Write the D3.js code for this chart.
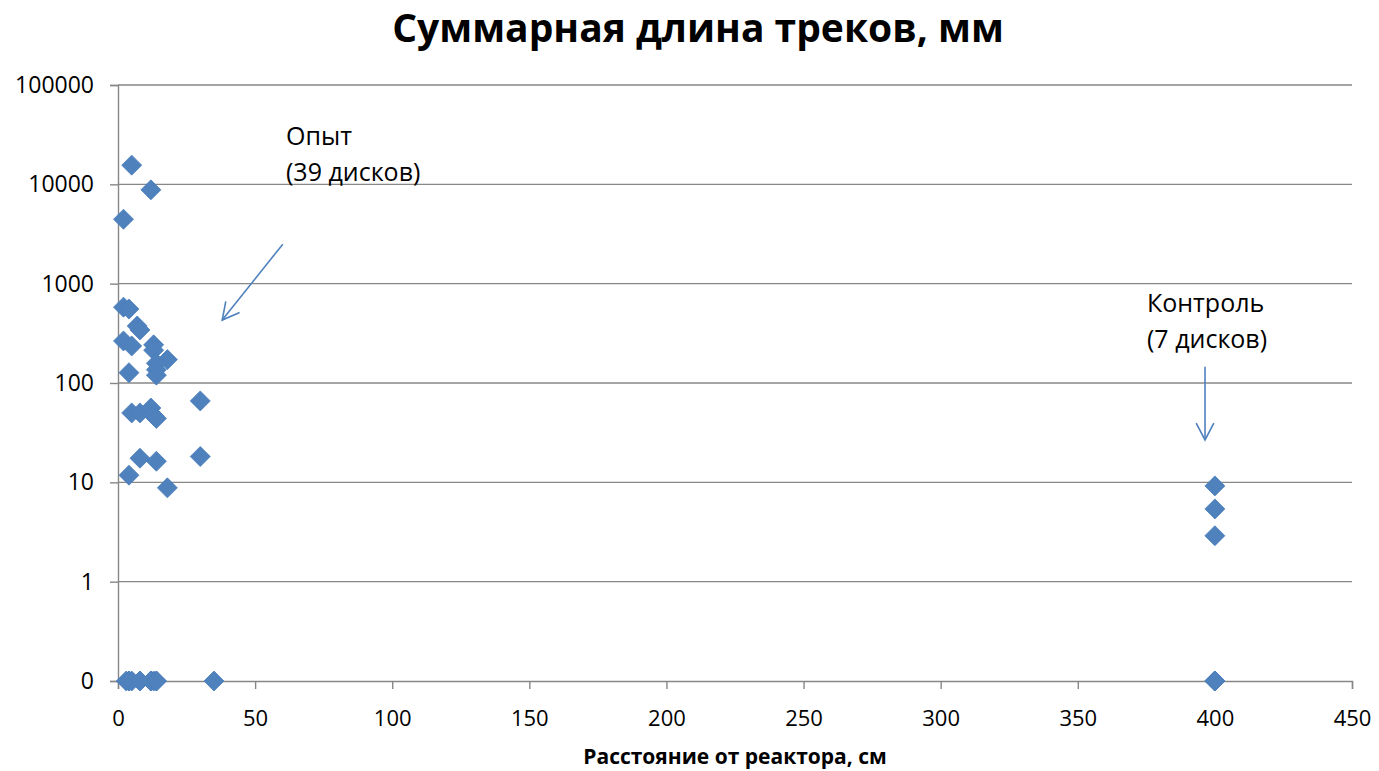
<!DOCTYPE html>
<html>
<head>
<meta charset="utf-8">
<script src="https://cdn.jsdelivr.net/npm/d3@7"></script>
<style>
  html, body { margin: 0; padding: 0; background: #fff; }
  svg { display: block; font-family: "Open Sans", "DejaVu Sans", sans-serif; }
</style>
</head>
<body>
<svg id="chart" width="1379" height="771"></svg>
<script>
// Experimental discs: distance from the reactor (cm) and total track length (mm)
const expDistance = [5, 12, 2,
  2, 4, 7, 8, 2, 5, 13, 13, 18, 14, 14, 14, 4,
  5, 8, 12, 13, 14,
  30, 30, 8, 14, 4, 18,
  3, 4, 5, 8, 12, 13, 14, 35, 4, 8, 12, 14];
const expLength = [15600, 8800, 4450,
  580, 555, 375, 342, 265, 236, 242, 214, 172, 158, 136, 120, 127,
  50, 50, 56, 47, 44,
  66, 18.2, 17.5, 16.3, 11.8, 8.8,
  0, 0, 0, 0, 0, 0, 0, 0, 0, 0, 0, 0];

// Control discs
const ctrlDistance = [400, 400, 400, 400, 400, 400, 400];
const ctrlLength = [9.2, 5.4, 2.9, 0, 0, 0, 0];

// Axis ticks
const xTicks = [0, 50, 100, 150, 200, 250, 300, 350, 400, 450];
const yTicks = [0.1, 1, 10, 100, 1000, 10000, 100000];
const yTickLabels = ["0", "1", "10", "100", "1000", "10000", "100000"];

const title = "Суммарная длина треков, мм";
const xTitle = "Расстояние от реактора, см";

const svg = d3.select("#chart");
const plotLeft = 118, plotRight = 1352, plotTop = 85, plotBottom = 681;

const x = d3.scaleLinear().domain([0, 450]).range([plotLeft, plotRight]);
const y = d3.scaleLog().domain([0.1, 100000]).range([plotBottom, plotTop]);
// zero lengths sit on the bottom of the log axis
const yv = v => y(Math.max(v, 0.1));

const gridColor = "#878787";

// horizontal gridlines
svg.append("g")
  .selectAll("line")
  .data(yTicks.slice(1))
  .join("line")
  .attr("x1", plotLeft).attr("x2", plotRight)
  .attr("y1", d => y(d)).attr("y2", d => y(d))
  .attr("stroke", gridColor).attr("stroke-width", 1.4);

// y axis
const yAxis = svg.append("g")
  .attr("transform", `translate(${plotLeft},0)`)
  .call(d3.axisLeft(y).tickValues(yTicks)
    .tickFormat((d, i) => yTickLabels[i]).tickSize(8).tickPadding(16));
yAxis.select(".domain").attr("stroke", gridColor).attr("stroke-width", 1.4);
yAxis.selectAll(".tick line").attr("stroke", gridColor).attr("stroke-width", 1.4);
yAxis.selectAll(".tick text")
  .attr("font-size", 23).attr("fill", "#000")
  .attr("font-family", "'Open Sans', sans-serif");

// x axis
const xAxis = svg.append("g")
  .attr("transform", `translate(0,${plotBottom})`)
  .call(d3.axisBottom(x).tickValues(xTicks).tickSize(8).tickPadding(21));
xAxis.select(".domain").attr("stroke", gridColor).attr("stroke-width", 1.4);
xAxis.selectAll(".tick line").attr("stroke", gridColor).attr("stroke-width", 1.4);
xAxis.selectAll(".tick text")
  .attr("font-size", 22).attr("fill", "#000")
  .attr("font-family", "'Open Sans', sans-serif");

// diamond markers
const diamond = "M0,-10L10,0L0,10L-10,0Z";
const points = expDistance.map((d, i) => ({ d, v: expLength[i] }))
  .concat(ctrlDistance.map((d, i) => ({ d, v: ctrlLength[i] })));

svg.append("g")
  .selectAll("path")
  .data(points)
  .join("path")
  .attr("d", diamond)
  .attr("transform", p => `translate(${x(p.d)},${yv(p.v)})`)
  .attr("fill", "#4F81BD")
  .attr("stroke", "#4A7EBB")
  .attr("stroke-width", 0.8);

// title
svg.append("text")
  .attr("x", 698).attr("y", 42)
  .attr("text-anchor", "middle")
  .attr("font-size", 39).attr("font-weight", "bold")
  .text(title);

// x axis title
svg.append("text")
  .attr("x", (plotLeft + plotRight) / 2).attr("y", 764)
  .attr("text-anchor", "middle")
  .attr("font-size", 21).attr("font-weight", "bold")
  .text(xTitle);

// annotations
const arrowColor = "#4F81BD";
function arrow(x1, y1, x2, y2) {
  const g = svg.append("g").attr("stroke", arrowColor)
    .attr("stroke-width", 1.6).attr("fill", "none");
  g.append("line").attr("x1", x1).attr("y1", y1).attr("x2", x2).attr("y2", y2);
  const a = Math.atan2(y2 - y1, x2 - x1), len = 19, spread = Math.PI / 6.5;
  const p1 = [x2 - len * Math.cos(a - spread), y2 - len * Math.sin(a - spread)];
  const p2 = [x2 - len * Math.cos(a + spread), y2 - len * Math.sin(a + spread)];
  g.append("path").attr("d", `M${p1}L${x2},${y2}L${p2}`);
}

function note(lines, xPos, baselines) {
  const t = svg.append("text").attr("font-size", 25).attr("fill", "#000");
  lines.forEach((s, i) => {
    t.append("tspan").attr("x", xPos).attr("y", baselines[i]).text(s);
  });
}

note(["Опыт", "(39 дисков)"], 286, [145, 181]);
arrow(x(60.1), y(2500), x(38), y(430));

note(["Контроль", "(7 дисков)"], 1147, [312, 348]);
arrow(x(396.4), y(146), x(396.4), y(26.7));
</script>
</body>
</html>
